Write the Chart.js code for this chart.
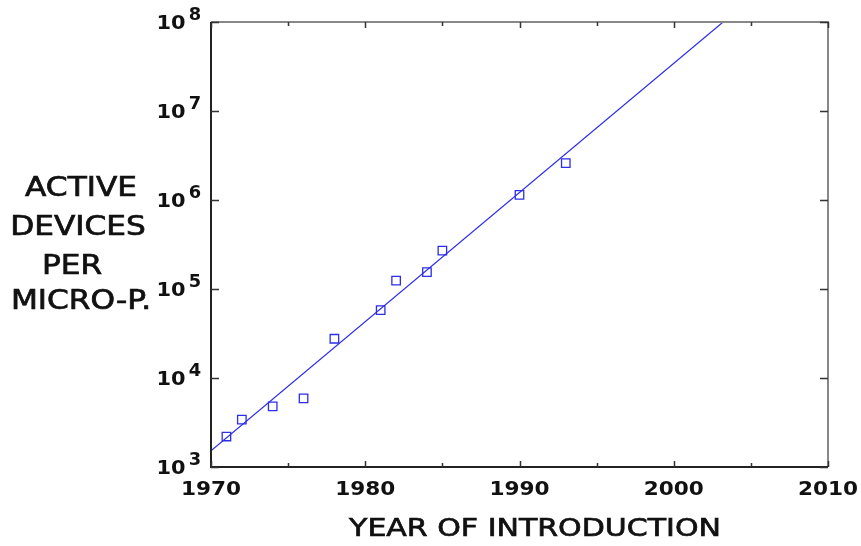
<!DOCTYPE html>
<html lang="en">
<head>
<meta charset="UTF-8">
<script src="https://cdn.jsdelivr.net/npm/chart.js"></script>
<title>Active devices per micro-processor</title>
<style>
  html, body { margin: 0; padding: 0; background: #fff; }
  #wrap { width: 861px; height: 546px; }
</style>
</head>
<body>
<div id="wrap"><canvas id="grafico"></canvas></div>
<script>
// dados
var anos = [1971, 1972, 1974, 1976, 1978, 1981, 1982, 1984, 1985, 1990, 1993];
var dispositivos = [2200, 3400, 4800, 5900, 27600, 58000, 124000, 155000, 270000, 1140000, 2600000];

// reta de tendência (extremos)
var tendAnos = [1970, 2003.2];
var tendValores = [1520, 1e8];

var xTicks = [1970, 1980, 1990, 2000, 2010];
var xMinor = [1975, 1985, 1995, 2005];
var yExpoentes = [3, 4, 5, 6, 7, 8];

var tituloX = 'YEAR OF INTRODUCTION';
var tituloY = ['ACTIVE', 'DEVICES', 'PER', 'MICRO-P.'];

var azul = 'rgb(45,45,235)';

// texto centrado, esticado na horizontal pelo fator k
function textoCentrado(ctx, t, x, y, k, contorno) {
  ctx.save();
  ctx.translate(x, y);
  ctx.scale(k, 1);
  ctx.textAlign = 'center';
  ctx.fillText(t, 0, 0);
  if (contorno) ctx.strokeText(t, 0, 0);
  ctx.restore();
}

// desenha moldura, marcas, rótulos e títulos
var molduraPlugin = {
  id: 'moldura',
  afterDraw: function (chart) {
    var ctx = chart.ctx;
    var a = chart.chartArea;
    var sx = chart.scales.x, sy = chart.scales.y;
    ctx.save();

    // moldura
    ctx.lineWidth = 2;
    ctx.strokeStyle = '#888';
    ctx.beginPath();
    ctx.moveTo(a.left, a.top); ctx.lineTo(a.right, a.top); ctx.lineTo(a.right, a.bottom);
    ctx.stroke();
    ctx.strokeStyle = '#222';
    ctx.beginPath();
    ctx.moveTo(a.left, a.top); ctx.lineTo(a.left, a.bottom); ctx.lineTo(a.right, a.bottom);
    ctx.stroke();

    // marcas do eixo x
    ctx.lineWidth = 1.5;
    ctx.strokeStyle = '#333';
    xTicks.concat(xMinor).forEach(function (v) {
      var px = Math.round(sx.getPixelForValue(v)) + 0.5;
      var len = xMinor.indexOf(v) >= 0 ? 4 : 6;
      ctx.beginPath();
      ctx.moveTo(px, a.bottom); ctx.lineTo(px, a.bottom - len);
      ctx.moveTo(px, a.top); ctx.lineTo(px, a.top + len);
      ctx.stroke();
    });
    // marcas do eixo y
    yExpoentes.forEach(function (e) {
      var py = Math.round(sy.getPixelForValue(Math.pow(10, e))) + 0.5;
      ctx.beginPath();
      ctx.moveTo(a.left, py); ctx.lineTo(a.left + 8, py);
      ctx.moveTo(a.right, py); ctx.lineTo(a.right - 8, py);
      ctx.stroke();
    });

    // rótulos x
    ctx.fillStyle = '#111';
    ctx.strokeStyle = '#111';
    ctx.font = 'bold 20px "DejaVu Sans"';
    ctx.textBaseline = 'middle';
    xTicks.forEach(function (v) {
      textoCentrado(ctx, String(v), sx.getPixelForValue(v), 490, 1.08, false);
    });

    // rótulos y: 10 com expoente
    yExpoentes.forEach(function (e) {
      var py = sy.getPixelForValue(Math.pow(10, e));
      ctx.font = 'bold 19px "DejaVu Sans"';
      textoCentrado(ctx, '10', 171, py + 2.5, 1.1, false);
      ctx.font = 'bold 17px "DejaVu Sans"';
      textoCentrado(ctx, String(e), 195, py - 6.5, 1.05, false);
    });

    // título x
    ctx.lineWidth = 0.7;
    ctx.font = '25px "DejaVu Sans"';
    textoCentrado(ctx, tituloX, 535, 529, 1.2, true);

    // título y
    ctx.font = '26px "DejaVu Sans"';
    var ys = [189, 228, 267, 302];
    var xs = [81, 78, 72, 81];
    tituloY.forEach(function (t, i) {
      textoCentrado(ctx, t, xs[i], ys[i], 1.2, true);
    });
    ctx.restore();
  }
};

var contexto = document.getElementById('grafico');
new Chart(contexto, {
  type: 'scatter',
  data: {
    datasets: [
      {
        label: 'Tendência',
        data: tendAnos.map(function (x, i) { return { x: x, y: tendValores[i] }; }),
        showLine: true,
        borderColor: azul,
        borderWidth: 1.2,
        pointRadius: 0,
        fill: false
      },
      {
        label: 'Processadores',
        data: anos.map(function (x, i) { return { x: x, y: dispositivos[i] }; }),
        pointStyle: 'rect',
        pointRadius: 6,
        pointBorderWidth: 1.3,
        pointBorderColor: azul,
        pointBackgroundColor: 'rgba(255,255,255,0)'
      }
    ]
  },
  options: {
    responsive: true,
    maintainAspectRatio: false,
    animation: false,
    layout: { padding: { left: 211, top: 22, right: 33, bottom: 79 } },
    plugins: {
      legend: { display: false },
      tooltip: { enabled: false }
    },
    scales: {
      x: { type: 'linear', min: 1970, max: 2010, display: false },
      y: { type: 'logarithmic', min: 1e3, max: 1e8, display: false }
    }
  },
  plugins: [molduraPlugin]
});
</script>
</body>
</html>
